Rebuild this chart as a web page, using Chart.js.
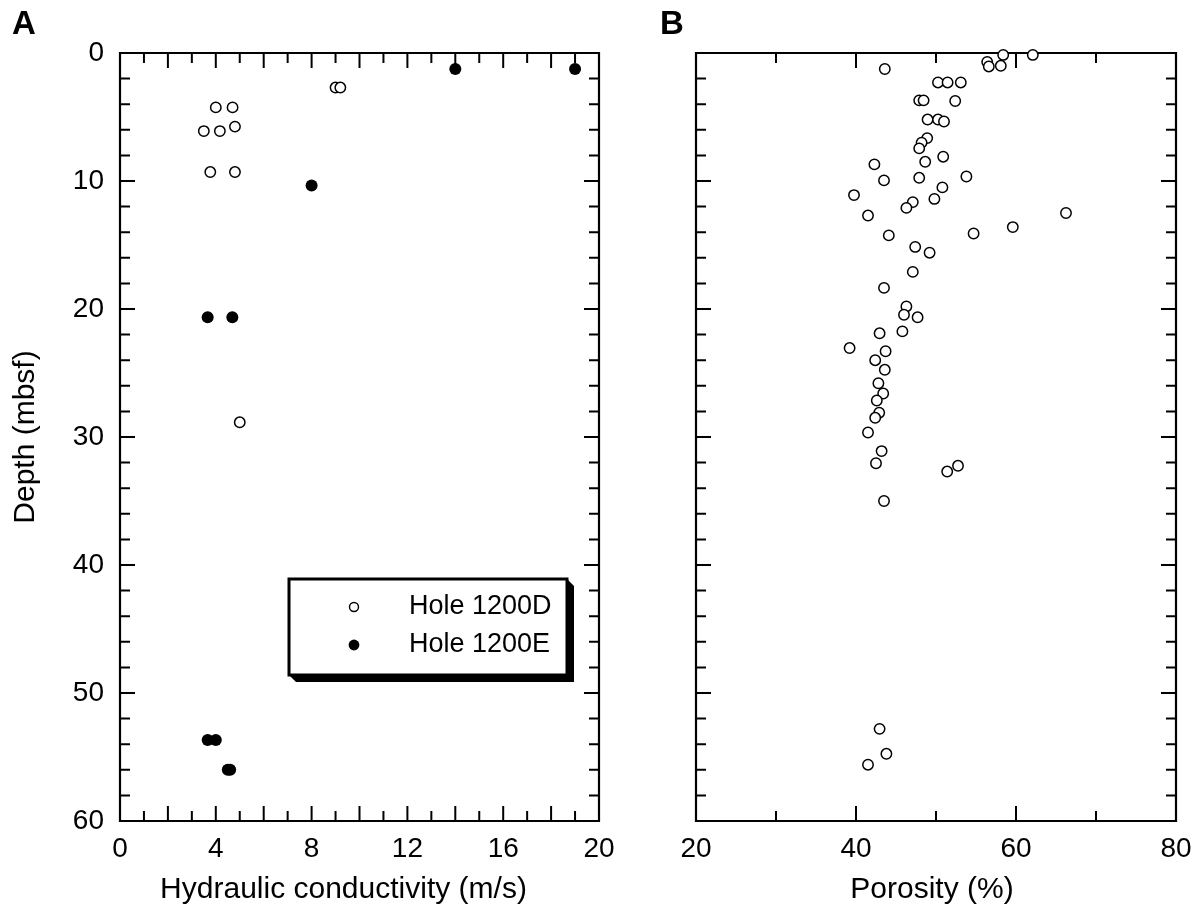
<!DOCTYPE html>
<html>
<head>
<meta charset="utf-8">
<script src="https://cdn.jsdelivr.net/npm/chart.js@4.4.1/dist/chart.umd.min.js"></script>
<style>
  html, body { margin: 0; padding: 0; background: #fff; }
  #wrap { position: relative; width: 1201px; height: 915px; overflow: hidden; }
  canvas { position: absolute; top: 0; }
  .panel { position: absolute; font: bold 33px "Liberation Sans", Arial, sans-serif; line-height: 33px; color: #000; }
</style>
</head>
<body>
<div id="wrap">
  <canvas id="chartA" width="640" height="915" style="left:0"></canvas>
  <canvas id="chartB" width="561" height="915" style="left:640px"></canvas>
  <div class="panel" style="left:12px; top:6px">A</div>
  <div class="panel" style="left:660px; top:6px">B</div>
</div>
<script>
// Hole 1200D, hydraulic conductivity (m/s) vs depth (mbsf)
const condD_k     = [9.0, 9.2, 4.0, 4.7, 3.5, 4.17, 4.8, 3.77, 4.8, 5.0];
const condD_depth = [2.7, 2.7, 4.25, 4.25, 6.1, 6.1, 5.75, 9.3, 9.3, 28.85];
// Hole 1200E
const condE_k     = [14.0, 19.0, 8.0, 3.66, 4.69, 3.66, 4.0, 4.5, 4.6];
const condE_depth = [1.25, 1.25, 10.35, 20.65, 20.65, 53.67, 53.67, 56.0, 56.0];

// Hole 1200D, porosity (%) vs depth (mbsf)
const poroD = [58.4, 62.1, 56.4, 56.6, 58.1, 43.6, 50.25, 51.45, 53.1, 47.9,
  48.45, 52.4, 48.95, 50.25, 51.0, 48.9, 48.2, 47.9, 50.9, 48.65,
  42.3, 43.5, 47.9, 53.8, 50.8, 39.75, 49.8, 47.1, 46.3, 66.25,
  41.5, 59.6, 44.1, 54.7, 47.4, 49.2, 47.1, 43.5, 46.3, 46.0,
  47.7, 45.8, 42.95, 39.2, 43.7, 42.4, 43.6, 42.8, 43.4, 42.6,
  42.9, 42.4, 41.5, 43.2, 42.5, 52.75, 51.4, 43.5, 42.95, 43.8, 41.5];
const poroD_depth = [0.15, 0.15, 0.7, 1.05, 1.0, 1.25, 2.3, 2.3, 2.3, 3.7,
  3.7, 3.75, 5.2, 5.2, 5.35, 6.65, 7.0, 7.45, 8.1, 8.5,
  8.7, 9.95, 9.75, 9.65, 10.5, 11.1, 11.4, 11.65, 12.1, 12.5,
  12.7, 13.6, 14.25, 14.1, 15.15, 15.6, 17.1, 18.35, 19.8, 20.45,
  20.65, 21.75, 21.9, 23.05, 23.3, 24.0, 24.75, 25.8, 26.6, 27.15,
  28.1, 28.5, 29.65, 31.1, 32.05, 32.25, 32.7, 35.0, 52.8, 54.75, 55.6];

const condTicks = [0, 4, 8, 12, 16, 20];
const poroTicks = [20, 40, 60, 80];
const depthTicks = [0, 10, 20, 30, 40, 50, 60];

const FONT = '"Liberation Sans", Arial, Helvetica, sans-serif';

function pts(xs, ys) {
  return xs.map((x, i) => ({ x: x, y: ys[i] }));
}

const openStyle = {
  pointRadius: 5.2, pointBorderWidth: 1.5,
  pointBorderColor: '#000', pointBackgroundColor: '#fff', showLine: false, clip: false
};
const fillStyle = {
  pointRadius: 6, pointBorderWidth: 0,
  pointBorderColor: '#000', pointBackgroundColor: '#000', showLine: false, clip: false
};

// box round the plot plus inward tick marks on all four sides
const frame = {
  id: 'frame',
  beforeDatasetsDraw(chart, args, opts) {
    const { ctx, chartArea: a, scales } = chart;
    const x = scales.x, y = scales.y;
    ctx.save();
    ctx.strokeStyle = '#000';
    ctx.lineWidth = 2.2;
    ctx.beginPath();
    ctx.rect(a.left, a.top, a.right - a.left, a.bottom - a.top);
    ctx.stroke();
    ctx.lineWidth = 2;
    ctx.beginPath();
    for (let v = x.min; v <= x.max + 1e-9; v += opts.xStep) {
      if (v === x.min || v >= x.max - 1e-9) continue;
      const len = Math.abs(v / opts.xLong - Math.round(v / opts.xLong)) < 1e-6 ? 15 : 10;
      const px = x.getPixelForValue(v);
      ctx.moveTo(px, a.bottom); ctx.lineTo(px, a.bottom - len);
      ctx.moveTo(px, a.top); ctx.lineTo(px, a.top + len);
    }
    for (let v = y.min; v <= y.max + 1e-9; v += opts.yStep) {
      if (v === y.min || v >= y.max - 1e-9) continue;
      const len = v % opts.yLong === 0 ? 15 : 10;
      const py = y.getPixelForValue(v);
      ctx.moveTo(a.left, py); ctx.lineTo(a.left + len, py);
      ctx.moveTo(a.right, py); ctx.lineTo(a.right - len, py);
    }
    ctx.stroke();

    // x axis caption, set a little left of the plot centre like the original
    if (opts.caption) {
      ctx.fillStyle = '#000';
      ctx.font = '30px ' + FONT;
      ctx.textAlign = 'center';
      ctx.textBaseline = 'middle';
      ctx.fillText(opts.caption, (a.left + a.right) / 2 + opts.captionShift, 890);
    }
    ctx.restore();
  }
};

// boxed legend with a drop shadow, as in the original figure
const boxLegend = {
  id: 'boxLegend',
  afterDatasetsDraw(chart) {
    const ctx = chart.ctx;
    const L = 289, T = 579, R = 567, B = 675, s = 7;
    ctx.save();
    ctx.fillStyle = '#000';
    ctx.beginPath();
    ctx.moveTo(R, T); ctx.lineTo(R + s, T + s); ctx.lineTo(R + s, B + s);
    ctx.lineTo(L + s, B + s); ctx.lineTo(L, B); ctx.closePath();
    ctx.fill();
    ctx.fillStyle = '#fff';
    ctx.fillRect(L, T, R - L, B - T);
    ctx.strokeStyle = '#000';
    ctx.lineWidth = 3;
    ctx.strokeRect(L, T, R - L, B - T);

    const rows = [607, 645];
    chart.data.datasets.forEach((ds, i) => {
      ctx.beginPath();
      ctx.arc(354, rows[i], i === 0 ? 4.5 : 5.4, 0, Math.PI * 2);
      ctx.fillStyle = ds.pointBackgroundColor;
      ctx.fill();
      if (ds.pointBorderWidth) {
        ctx.lineWidth = 1.4;
        ctx.strokeStyle = '#000';
        ctx.stroke();
      }
      ctx.fillStyle = '#000';
      ctx.font = '27px ' + FONT;
      ctx.textBaseline = 'middle';
      ctx.textAlign = 'left';
      ctx.fillText(ds.label, 409, rows[i]);
    });
    ctx.restore();
  }
};

function tickFont() { return { family: FONT, size: 28 }; }

function depthAxis(showLabels, width) {
  return {
    type: 'linear', min: 0, max: 60, reverse: true,
    afterBuildTicks: s => { s.ticks = depthTicks.map(v => ({ value: v })); },
    ticks: { display: showLabels, padding: 8, color: '#000', font: tickFont() },
    grid: { display: false }, border: { display: false },
    title: {
      display: showLabels, text: 'Depth (mbsf)', color: '#000',
      font: { family: FONT, size: 30 }, padding: { top: 8, bottom: 0 }
    },
    afterFit: s => { s.width = width; }
  };
}

function valueAxis(min, max, ticks) {
  return {
    type: 'linear', position: 'bottom', min: min, max: max,
    afterBuildTicks: s => { s.ticks = ticks.map(v => ({ value: v })); },
    ticks: { padding: 3, color: '#000', font: tickFont(), maxRotation: 0 },
    grid: { display: false }, border: { display: false },
    title: { display: false },
    afterFit: s => { s.height = 94; }
  };
}

new Chart(document.getElementById('chartA'), {
  type: 'scatter',
  data: {
    datasets: [
      Object.assign({ label: 'Hole 1200D', data: pts(condD_k, condD_depth) }, openStyle),
      Object.assign({ label: 'Hole 1200E', data: pts(condE_k, condE_depth) }, fillStyle)
    ]
  },
  options: {
    responsive: false, animation: false,
    layout: { padding: { top: 53, right: 41, bottom: 0, left: 0 } },
    plugins: {
      legend: { display: false }, tooltip: { enabled: false },
      frame: { xStep: 1, xLong: 2, yStep: 2, yLong: 10,
               caption: 'Hydraulic conductivity (m/s)', captionShift: -16 }
    },
    scales: {
      x: valueAxis(0, 20, condTicks),
      y: depthAxis(true, 120)
    }
  },
  plugins: [frame, boxLegend]
});

new Chart(document.getElementById('chartB'), {
  type: 'scatter',
  data: {
    datasets: [
      Object.assign({ label: 'Hole 1200D', data: pts(poroD, poroD_depth) }, openStyle)
    ]
  },
  options: {
    responsive: false, animation: false,
    layout: { padding: { top: 53, right: 25, bottom: 0, left: 0 } },
    plugins: {
      legend: { display: false }, tooltip: { enabled: false },
      frame: { xStep: 10, xLong: 20, yStep: 2, yLong: 10,
               caption: 'Porosity (%)', captionShift: -4 }
    },
    scales: {
      x: valueAxis(20, 80, poroTicks),
      y: depthAxis(false, 56)
    }
  },
  plugins: [frame]
});
</script>
</body>
</html>
